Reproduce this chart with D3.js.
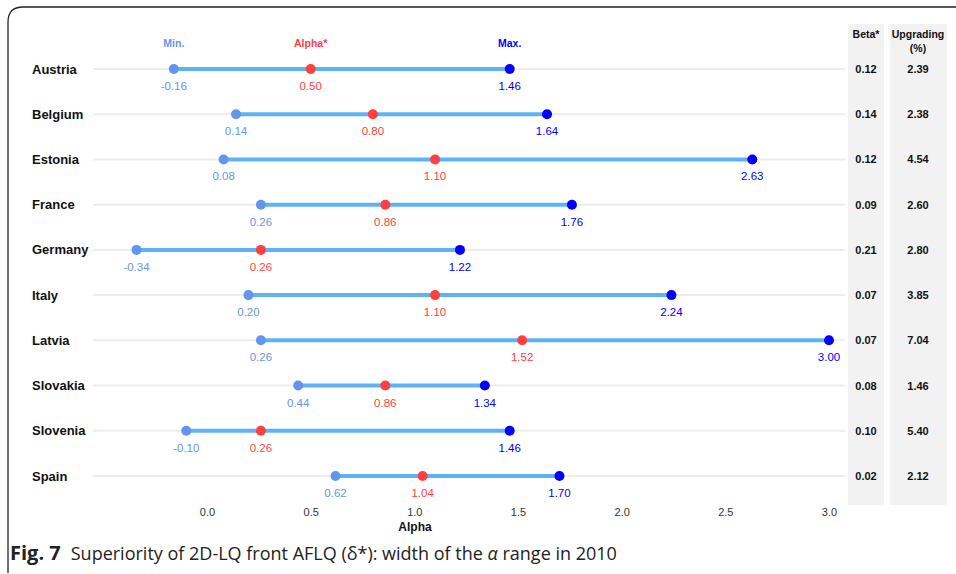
<!DOCTYPE html>
<html><head><meta charset="utf-8">
<script src="https://cdn.jsdelivr.net/npm/d3@7"></script>
<style>body{margin:0;background:#fff}svg{display:block}</style>
</head><body><svg id="c" width="956" height="574"></svg>
<script>
const countries = ["Austria","Belgium","Estonia","France","Germany","Italy","Latvia","Slovakia","Slovenia","Spain"];
const minVals   = [-0.16, 0.14, 0.08, 0.26, -0.34, 0.20, 0.26, 0.44, -0.10, 0.62];
const alphaVals = [0.50, 0.80, 1.10, 0.86, 0.26, 1.10, 1.52, 0.86, 0.26, 1.04];
const maxVals   = [1.46, 1.64, 2.63, 1.76, 1.22, 2.24, 3.00, 1.34, 1.46, 1.70];
const betaVals  = ["0.12","0.14","0.12","0.09","0.21","0.07","0.07","0.08","0.10","0.02"];
const upgVals   = ["2.39","2.38","4.54","2.60","2.80","3.85","7.04","1.46","5.40","2.12"];
const xTicks = [0,0.5,1,1.5,2,2.5,3];

const svg = d3.select("#c");
const font = "'Liberation Sans', Arial, Helvetica, sans-serif";
const cMin = "#6495ED", cAlpha = "#FF4040", cMax = "#0000FF", cSeg = "#5EB3F6";

// border
svg.append("path").attr("d","M8,573 L8,22 Q8,7 23,7 L956,7")
  .attr("fill","none").attr("stroke","#222").attr("stroke-width",1.3);

const x = d3.scaleLinear().domain([0,3]).range([207,829]);
const y = d3.scalePoint().domain(countries).range([69,476]);

// gray column panels
svg.append("rect").attr("x",848).attr("y",24).attr("width",36).attr("height",481).attr("fill","#F2F2F2");
svg.append("rect").attr("x",890).attr("y",24).attr("width",57).attr("height",481).attr("fill","#F2F2F2");

const g = svg.append("g");
// gridlines
g.selectAll(".grid").data(countries).join("line")
  .attr("x1",93).attr("x2",845).attr("y1",d=>y(d)).attr("y2",d=>y(d))
  .attr("stroke","#EDEDED").attr("stroke-width",2);

const rows = countries.map((c,i)=>({c,min:minVals[i],alpha:alphaVals[i],max:maxVals[i],beta:betaVals[i],upg:upgVals[i]}));

g.selectAll(".seg").data(rows).join("line")
  .attr("x1",d=>x(d.min)).attr("x2",d=>x(d.max)).attr("y1",d=>y(d.c)).attr("y2",d=>y(d.c))
  .attr("stroke",cSeg).attr("stroke-width",4);

const pts = [["min",cMin],["alpha",cAlpha],["max",cMax]];
pts.forEach(([k,col])=>{
  g.selectAll(".p"+k).data(rows).join("circle")
    .attr("cx",d=>x(d[k])).attr("cy",d=>y(d.c)).attr("r",5).attr("fill",col);
  g.selectAll(".t"+k).data(rows).join("text")
    .attr("x",d=>x(d[k])).attr("y",d=>y(d.c)+21).attr("text-anchor","middle")
    .attr("font-family",font).attr("font-size",11.5).attr("fill",col)
    .text(d=>d[k].toFixed(2));
});

// headers above first row
const hdr = [["Min.",minVals[0],cMin],["Alpha*",alphaVals[0],cAlpha],["Max.",maxVals[0],cMax]];
svg.selectAll(".hdr").data(hdr).join("text")
  .attr("x",d=>x(d[1])).attr("y",47).attr("text-anchor","middle")
  .attr("font-family",font).attr("font-size",10.5).attr("font-weight","bold").attr("fill",d=>d[2])
  .text(d=>d[0]);

// country labels
svg.selectAll(".cl").data(countries).join("text")
  .attr("x",32).attr("y",d=>y(d)+4.5).attr("font-family",font).attr("font-size",13)
  .attr("font-weight","bold").attr("fill","#111").text(d=>d);

// right columns
svg.append("text").attr("x",866).attr("y",38).attr("text-anchor","middle").attr("font-family",font)
  .attr("font-size",10.5).attr("font-weight","bold").attr("fill","#111").text("Beta*");
svg.append("text").attr("x",918).attr("y",38).attr("text-anchor","middle").attr("font-family",font)
  .attr("font-size",10.5).attr("font-weight","bold").attr("fill","#111").text("Upgrading");
svg.append("text").attr("x",918).attr("y",52).attr("text-anchor","middle").attr("font-family",font)
  .attr("font-size",10.5).attr("font-weight","bold").attr("fill","#111").text("(%)");
svg.selectAll(".bv").data(rows).join("text")
  .attr("x",866).attr("y",d=>y(d.c)+4).attr("text-anchor","middle").attr("font-family",font)
  .attr("font-size",11).attr("font-weight","bold").attr("fill","#111").text(d=>d.beta);
svg.selectAll(".uv").data(rows).join("text")
  .attr("x",918).attr("y",d=>y(d.c)+4).attr("text-anchor","middle").attr("font-family",font)
  .attr("font-size",11).attr("font-weight","bold").attr("fill","#111").text(d=>d.upg);

// x axis
const ax = svg.append("g").attr("transform","translate(0,505)")
  .call(d3.axisBottom(x).tickValues(xTicks).tickFormat(d3.format(".1f")).tickSize(0).tickPadding(3));
ax.select(".domain").remove();
ax.selectAll("text").attr("font-family",font).attr("font-size",11).attr("fill","#333");
svg.append("text").attr("x",415).attr("y",531).attr("text-anchor","middle").attr("font-family",font)
  .attr("font-size",12).attr("font-weight","bold").attr("fill","#111").text("Alpha");

// caption
const cap = svg.append("text").attr("x",10).attr("y",560).attr("font-family","'Open Sans', 'Noto Sans', sans-serif")
  .attr("fill","#222");
cap.append("tspan").attr("font-weight","bold").attr("font-size",20).text("Fig. 7");
cap.append("tspan").attr("dx",10).attr("font-size",18).text("Superiority of 2D-LQ front AFLQ (δ*): width of the ");
cap.append("tspan").attr("font-style","italic").attr("font-size",18).text("α");
cap.append("tspan").attr("font-size",18).text(" range in 2010");
</script></body></html>
